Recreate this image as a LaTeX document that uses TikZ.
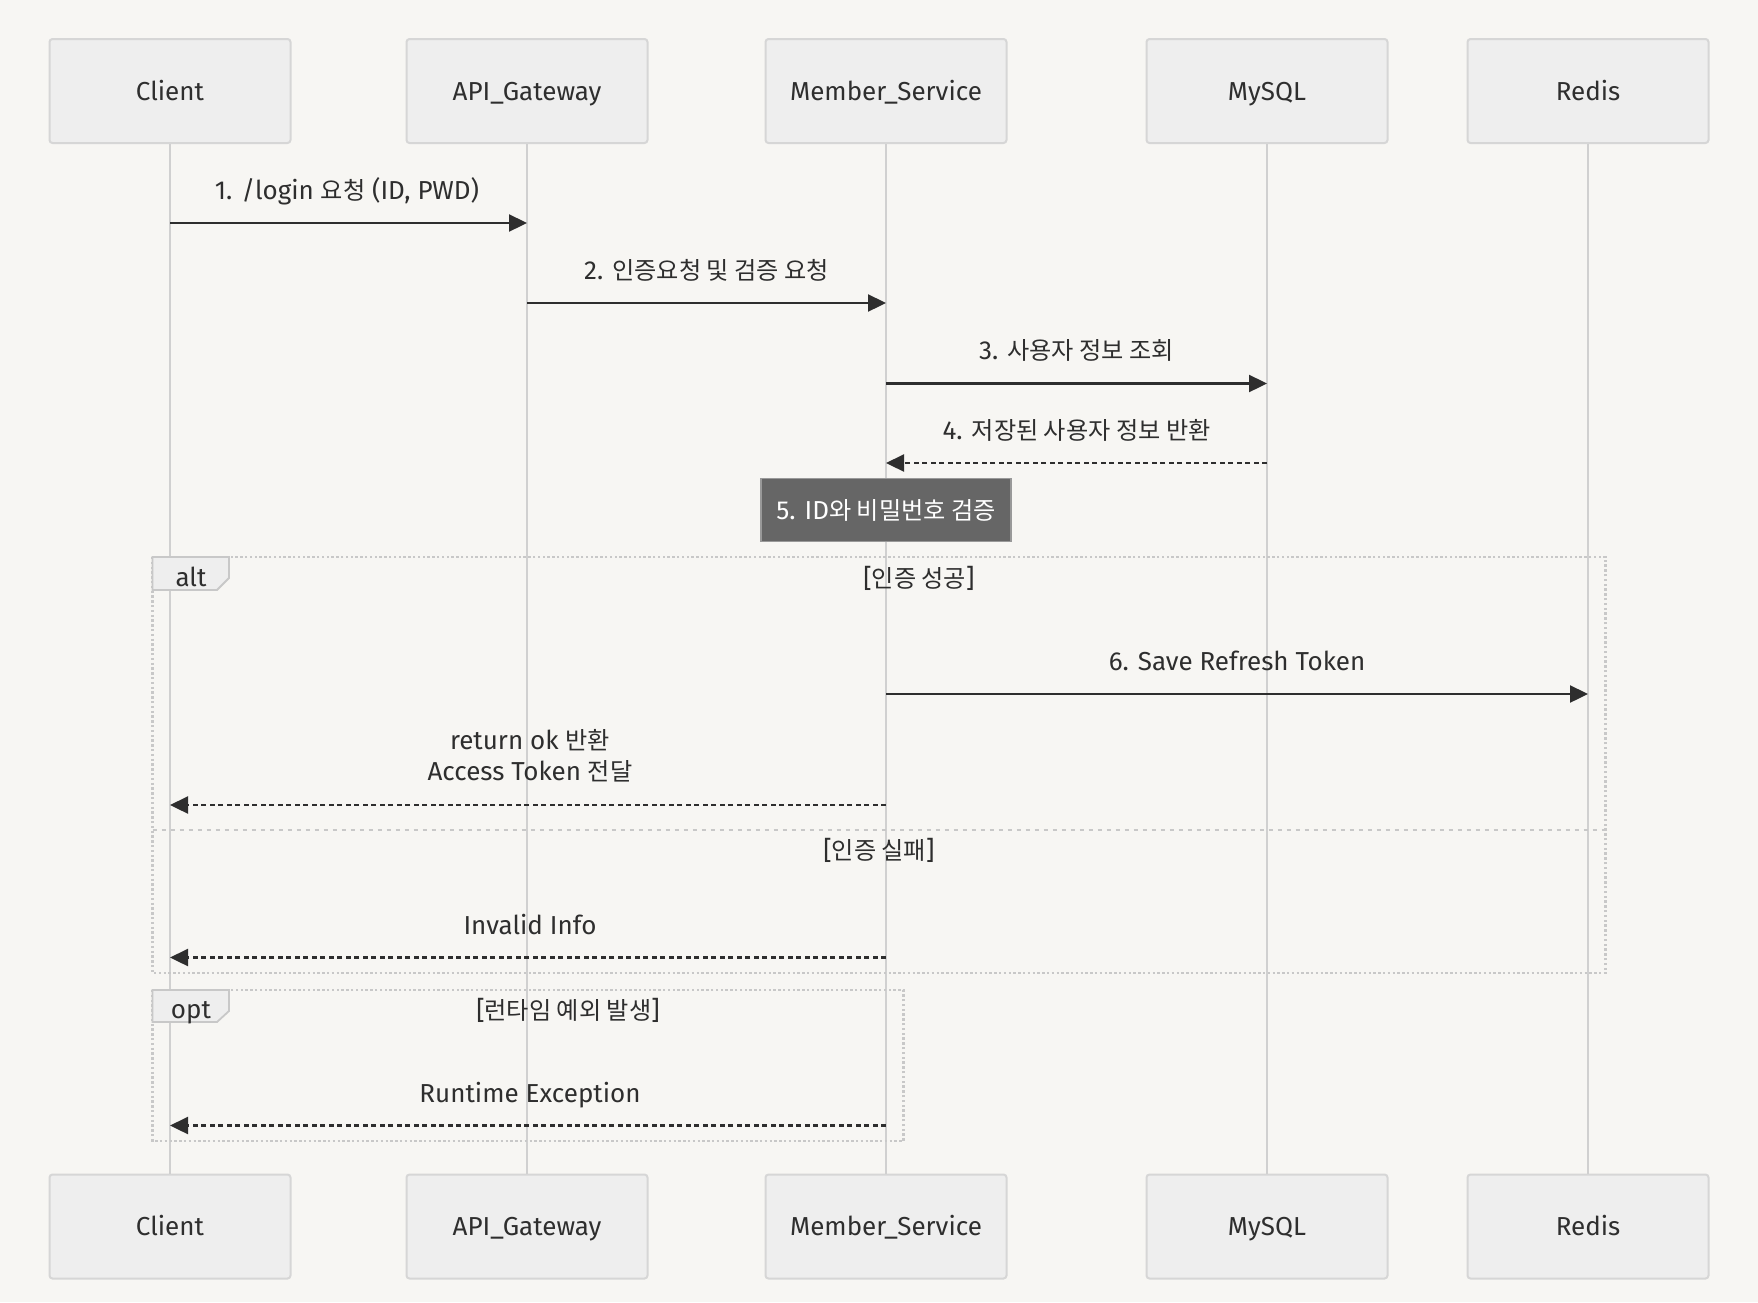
\documentclass[tikz,border=0pt]{standalone}
\usepackage{fontspec}
\setmainfont{Fira Sans}
\newfontfamily\kr{Noto Sans CJK KR}[Scale=0.93]
\usetikzlibrary{arrows.meta}
\definecolor{bgc}{HTML}{F7F6F3}
\definecolor{boxfill}{HTML}{EEEEEE}
\definecolor{boxline}{HTML}{D6D6D6}
\definecolor{lifec}{HTML}{D0D0D0}
\definecolor{ink}{HTML}{2E2E2E}
\definecolor{framec}{HTML}{C8C8C8}
\definecolor{notefill}{HTML}{666666}
\definecolor{noteline}{HTML}{999999}
\tikzset{
  actor/.style={draw=boxline, fill=boxfill, line width=2pt, rounded corners=3pt,
    minimum width=241pt, minimum height=104pt, inner sep=0pt, text=ink,
    text height=18.5pt, text depth=0pt,
    font=\fontsize{26}{31}\selectfont},
  life/.style={draw=lifec, line width=2.5pt},
  msg/.style={draw=ink, line width=2.3pt, -{Triangle[length=18pt,width=17pt]}},
  rmsg/.style={msg, dash pattern=on 5pt off 3.5pt},
  lbl/.style={text=ink, inner sep=0pt, align=center, text height=18.5pt, text depth=0pt,
    font=\fontsize{26}{31}\selectfont},
  frame/.style={draw=framec, line width=2.4pt, dash pattern=on 2.4pt off 2.4pt},
  sep/.style={draw=framec, line width=2.4pt, dash pattern=on 4.5pt off 4.5pt},
  tab/.style={draw=framec, fill=boxfill, line width=1.8pt},
  notebox/.style={draw=noteline, fill=notefill, line width=1.8pt, text=white,
    minimum width=250pt, minimum height=63pt, inner sep=0pt,
    text height=18.5pt, text depth=0pt,
    font=\fontsize{26}{31}\selectfont}
}
\begin{document}
\begin{tikzpicture}[x=1pt,y=-1pt]
\fill[bgc] (0,0) rectangle (1758,1302);
\useasboundingbox (0,0) rectangle (1758,1302);

% actors
\node[actor] (cT) at (170,91) {Client};
\node[actor] (aT) at (527,91) {API\_Gateway};
\node[actor] (mT) at (886,91) {Member\_Service};
\node[actor] (sT) at (1267,91) {MySQL};
\node[actor] (rT) at (1588,91) {Redis};
\node[actor] (cB) at (170,1226.5) {Client};
\node[actor] (aB) at (527,1226.5) {API\_Gateway};
\node[actor] (mB) at (886,1226.5) {Member\_Service};
\node[actor] (sB) at (1267,1226.5) {MySQL};
\node[actor] (rB) at (1588,1226.5) {Redis};

% lifelines
\draw[life] (cT.south) -- (cB.north);
\draw[life] (aT.south) -- (aB.north);
\draw[life] (mT.south) -- (mB.north);
\draw[life] (sT.south) -- (sB.north);
\draw[life] (rT.south) -- (rB.north);

% alt frame
\node[inner sep=0pt, minimum size=0pt] (altA) at (152.5,557) {};
\node[inner sep=0pt, minimum size=0pt] (altB) at (1605.5,973) {};
\draw[frame] (altA) rectangle (altB);
\coordinate (sepL) at (152.5,830);
\coordinate (sepR) at (1605.5,830);
\draw[sep] (sepL) -- (sepR);
\draw[tab] (152.5,557) -- (229,557) -- (229,578) -- (217,590) -- (152.5,590) -- cycle;
\node[lbl] (altlbl) at (191,577) {alt};
\node[lbl] (g1) at (919,578) {[{\kr 인증 성공}]};
\node[lbl] (g2) at (879,850) {[{\kr 인증 실패}]};

% opt frame
\node[inner sep=0pt, minimum size=0pt] (optA) at (152.5,990) {};
\node[inner sep=0pt, minimum size=0pt] (optB) at (903.5,1141) {};
\draw[frame] (optA) rectangle (optB);
\draw[tab] (152.5,990) -- (229,990) -- (229,1011) -- (217,1022) -- (152.5,1022) -- cycle;
\node[lbl] (optlbl) at (191,1009) {opt};
\node[lbl] (g3) at (568,1010) {[{\kr 런타임 예외 발생}]};

% message anchor points
\coordinate (c1) at (170,223);   \coordinate (a1) at (527,223);
\coordinate (a2) at (527,303);   \coordinate (m2) at (886,303);
\coordinate (m3) at (886,383.5); \coordinate (s3) at (1267,383.5);
\coordinate (s4) at (1267,463);  \coordinate (m4) at (886,463);
\coordinate (m6) at (886,694);   \coordinate (r6) at (1588,694);
\coordinate (m7) at (886,805);   \coordinate (c7) at (170,805);
\coordinate (m8) at (886,957.5); \coordinate (c8) at (170,957.5);
\coordinate (m9) at (886,1125.5);\coordinate (c9) at (170,1125.5);

% messages
\draw[msg] (c1) -- (a1);
\node[lbl] (l1) at (347,190) {1. /login {\kr 요청} (ID, PWD)};
\draw[msg] (a2) -- (m2);
\node[lbl] (l2) at (706.5,270) {2. {\kr 인증요청 및 검증 요청}};
\draw[msg] (m3) -- (s3);
\node[lbl] (l3) at (1076.5,350) {3. {\kr 사용자 정보 조회}};
\draw[rmsg] (s4) -- (m4);
\node[lbl] (l4) at (1076.5,430) {4. {\kr 저장된 사용자 정보 반환}};

\node[notebox] (note) at (886,510) {5. ID{\kr 와 비밀번호 검증}};

\draw[msg] (m6) -- (r6);
\node[lbl] (l6) at (1237,661) {6. Save Refresh Token};
\draw[rmsg] (m7) -- (c7);
\node[lbl] (l7) at (530,771.5) {return ok {\kr 반환}\\Access Token {\kr 전달}};
\draw[rmsg] (m8) -- (c8);
\node[lbl] (l8) at (530,925) {Invalid Info};
\draw[rmsg] (m9) -- (c9);
\node[lbl] (l9) at (530,1093) {Runtime Exception};
\end{tikzpicture}
\end{document}
